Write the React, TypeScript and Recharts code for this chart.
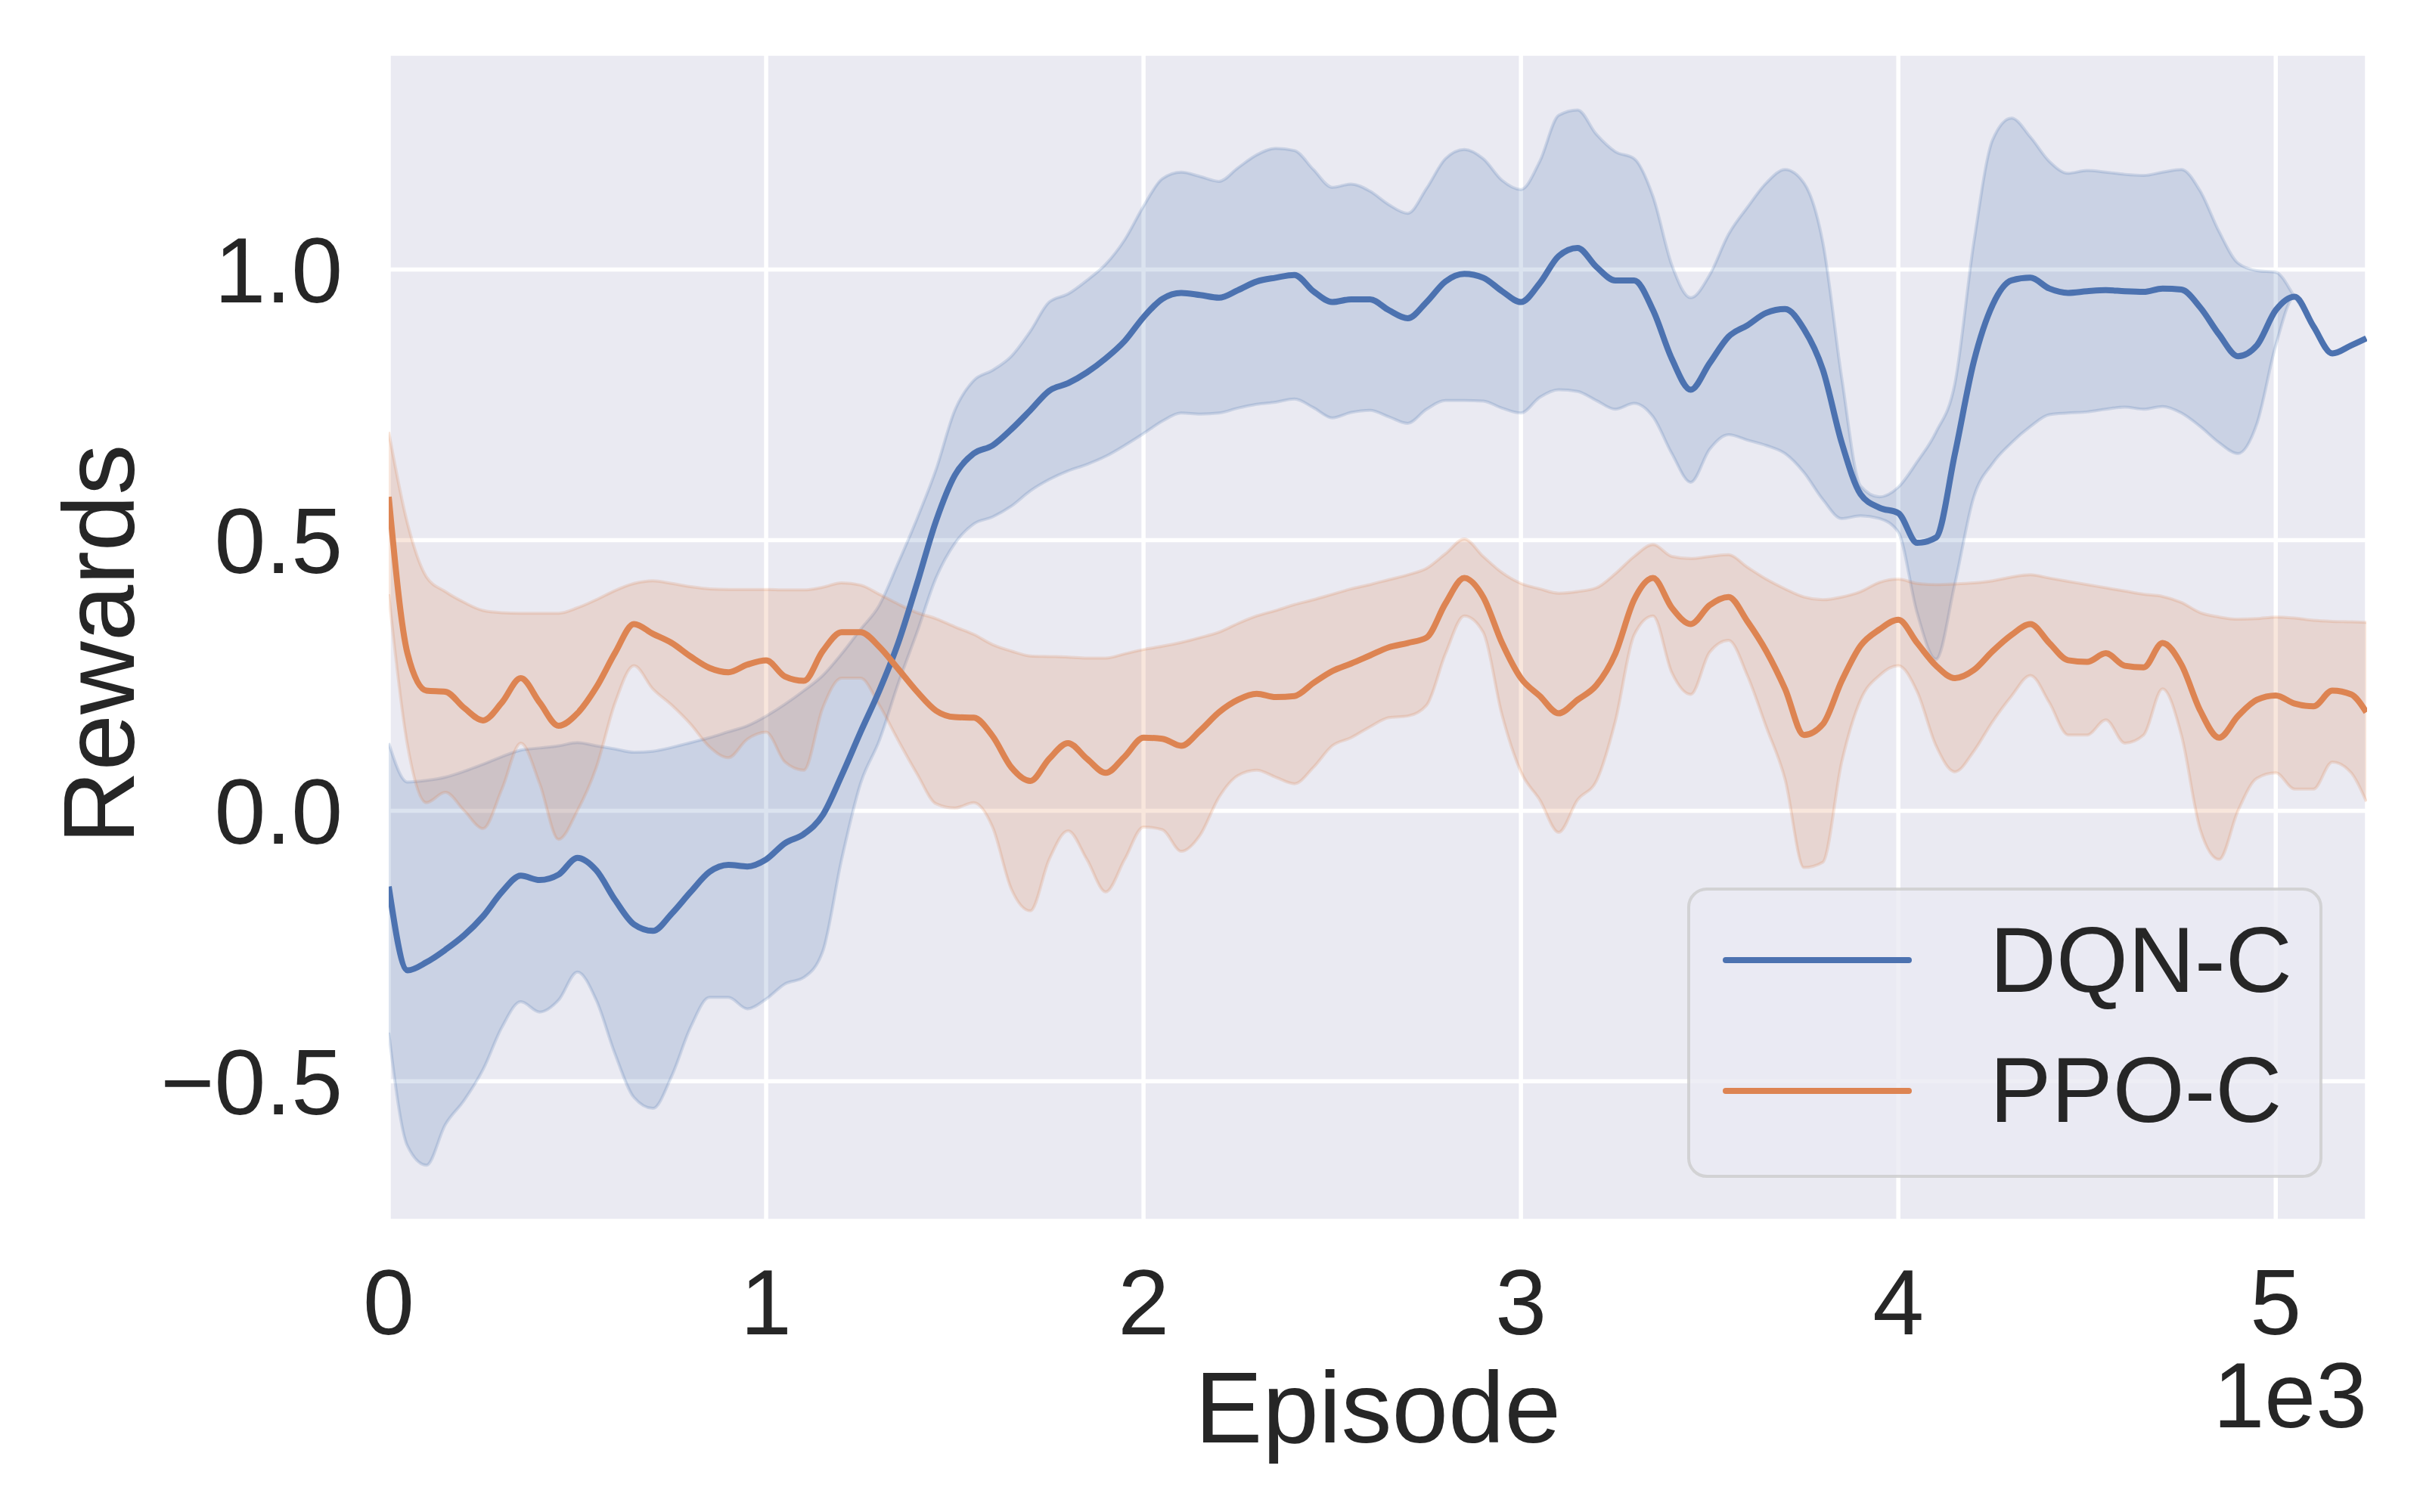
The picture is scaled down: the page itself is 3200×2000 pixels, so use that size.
import React from "react";
import {
  ComposedChart,
  Line,
  Area,
  XAxis,
  YAxis,
  CartesianGrid,
  Legend,
  Label,
} from "recharts";

// sampling grid (episodes)
const episodes = [
  0, 50, 100, 150, 200, 250, 300, 350, 400, 450,
  500, 550, 600, 650, 700, 750, 800, 850, 900, 950,
  1000, 1050, 1100, 1150, 1200, 1250, 1300, 1350, 1400, 1450,
  1500, 1550, 1600, 1650, 1700, 1750, 1800, 1850, 1900, 1950,
  2000, 2050, 2100, 2150, 2200, 2250, 2300, 2350, 2400, 2450,
  2500, 2550, 2600, 2650, 2700, 2750, 2800, 2850, 2900, 2950,
  3000, 3050, 3100, 3150, 3200, 3250, 3300, 3350, 3400, 3450,
  3500, 3550, 3600, 3650, 3700, 3750, 3800, 3850, 3900, 3950,
  4000, 4050, 4100, 4150, 4200, 4250, 4300, 4350, 4400, 4450,
  4500, 4550, 4600, 4650, 4700, 4750, 4800, 4850, 4900, 4950,
  5000, 5050, 5100, 5150, 5200, 5240,
];

const dqnMean = [
  -0.14, -0.295, -0.28, -0.257, -0.23, -0.195, -0.15, -0.12, -0.128, -0.118,
  -0.087, -0.11, -0.165, -0.21, -0.222, -0.19, -0.15, -0.113, -0.1, -0.103,
  -0.09, -0.06, -0.043, -0.008, 0.065, 0.145, 0.222, 0.31, 0.42, 0.535,
  0.62, 0.66, 0.675, 0.705, 0.74, 0.776, 0.79, 0.81, 0.836, 0.868,
  0.912, 0.946, 0.957, 0.953, 0.948, 0.962, 0.978, 0.985, 0.99, 0.96,
  0.94, 0.945, 0.945, 0.925, 0.91, 0.94, 0.978, 0.992, 0.985, 0.96,
  0.94, 0.975, 1.025, 1.04, 1.005, 0.98, 0.98, 0.925, 0.835, 0.778,
  0.827, 0.876, 0.897, 0.92, 0.927, 0.89, 0.815, 0.68, 0.585, 0.56,
  0.55, 0.495, 0.505, 0.66, 0.83, 0.935, 0.98, 0.985, 0.965, 0.957,
  0.96, 0.962, 0.96, 0.959, 0.965, 0.963, 0.93, 0.88, 0.84, 0.86,
  0.925, 0.95, 0.895, 0.845, 0.86, 0.873,
];

const dqnUpper = [
  0.125, 0.053, 0.056, 0.062, 0.073, 0.086, 0.1, 0.112, 0.116, 0.12,
  0.126, 0.12, 0.114, 0.108, 0.11, 0.117, 0.126, 0.135, 0.146, 0.157,
  0.175, 0.197, 0.222, 0.25, 0.29, 0.335, 0.38, 0.458, 0.54, 0.63,
  0.74, 0.795, 0.814, 0.84, 0.886, 0.94, 0.955, 0.98, 1.01, 1.055,
  1.117, 1.168, 1.18, 1.172, 1.163, 1.188, 1.212, 1.224, 1.22, 1.185,
  1.152, 1.158, 1.145, 1.12, 1.104, 1.15, 1.205, 1.222, 1.205, 1.165,
  1.148, 1.2, 1.285, 1.295, 1.25, 1.218, 1.205, 1.135, 1.008, 0.948,
  0.99, 1.065, 1.115, 1.16, 1.185, 1.16, 1.05, 0.8, 0.6, 0.58,
  0.598, 0.645, 0.7, 0.79, 1.05, 1.24, 1.28, 1.245, 1.2, 1.178,
  1.183, 1.18, 1.176, 1.174, 1.18, 1.185, 1.145, 1.07, 1.012, 0.998,
  0.995, 0.95, 0.895, 0.845, 0.86, 0.873,
];

const dqnLower = [
  -0.41, -0.62, -0.655, -0.58, -0.535, -0.478, -0.4, -0.353, -0.372, -0.35,
  -0.298, -0.35, -0.45, -0.53, -0.55, -0.49, -0.4, -0.345, -0.345, -0.366,
  -0.348, -0.32, -0.308, -0.26, -0.09, 0.05, 0.13, 0.235, 0.33, 0.43,
  0.494, 0.53, 0.543, 0.563, 0.591, 0.612, 0.628, 0.64, 0.655, 0.675,
  0.697, 0.72, 0.735, 0.733, 0.735, 0.744, 0.751, 0.755, 0.761, 0.745,
  0.726, 0.736, 0.74, 0.728, 0.716, 0.742, 0.758, 0.758, 0.757, 0.744,
  0.735, 0.764, 0.778, 0.775, 0.758, 0.742, 0.753, 0.728, 0.66, 0.607,
  0.668, 0.695, 0.685, 0.675, 0.66, 0.625, 0.575, 0.54, 0.545, 0.54,
  0.515, 0.365, 0.28, 0.42, 0.58, 0.642, 0.68, 0.71, 0.732, 0.735,
  0.737, 0.742, 0.746, 0.742, 0.747, 0.735, 0.71, 0.68, 0.66, 0.715,
  0.86, 0.95, 0.895, 0.845, 0.86, 0.873,
];

const ppoMean = [
  0.58, 0.29, 0.222, 0.22, 0.19, 0.167, 0.2, 0.245, 0.2, 0.157,
  0.18, 0.228, 0.292, 0.345, 0.327, 0.31, 0.285, 0.264, 0.256, 0.27,
  0.278, 0.248, 0.24, 0.295, 0.33, 0.33, 0.303, 0.262, 0.22, 0.185,
  0.173, 0.172, 0.138, 0.08, 0.055, 0.096, 0.125, 0.096, 0.07, 0.1,
  0.135, 0.133, 0.12, 0.148, 0.182, 0.205, 0.216, 0.21, 0.212, 0.236,
  0.258, 0.272, 0.287, 0.302, 0.31, 0.32, 0.383, 0.43, 0.395, 0.31,
  0.245, 0.212, 0.18, 0.205, 0.232, 0.29, 0.39, 0.43, 0.375, 0.345,
  0.38, 0.395, 0.35, 0.295, 0.225, 0.14, 0.16, 0.24, 0.305, 0.335,
  0.353, 0.31, 0.268, 0.245, 0.26, 0.295, 0.325, 0.345, 0.31, 0.278,
  0.275, 0.291, 0.268, 0.265, 0.31, 0.27, 0.185, 0.135, 0.175, 0.205,
  0.213, 0.198, 0.193, 0.222, 0.215, 0.182,
];

const ppoUpper = [
  0.7, 0.53, 0.432, 0.405, 0.385, 0.37, 0.366, 0.365, 0.365, 0.365,
  0.375, 0.39, 0.407, 0.42, 0.425, 0.42, 0.414, 0.41, 0.409, 0.409,
  0.409, 0.408, 0.408, 0.413, 0.421, 0.417, 0.4, 0.382, 0.366, 0.355,
  0.34, 0.326, 0.307, 0.295, 0.286, 0.285, 0.284, 0.282, 0.282, 0.29,
  0.298, 0.304, 0.311, 0.32, 0.33, 0.346, 0.36, 0.37, 0.381, 0.39,
  0.4, 0.41, 0.418, 0.427, 0.436, 0.448, 0.475, 0.502, 0.47, 0.44,
  0.42, 0.41, 0.402, 0.405, 0.412, 0.438, 0.47, 0.492, 0.47, 0.466,
  0.47, 0.473, 0.45, 0.428, 0.41, 0.395, 0.39, 0.395, 0.405, 0.422,
  0.428, 0.42, 0.418, 0.419, 0.421, 0.425, 0.432, 0.436, 0.43, 0.424,
  0.418, 0.412, 0.406, 0.4, 0.396, 0.385, 0.366, 0.358, 0.354, 0.355,
  0.358, 0.356, 0.352, 0.35, 0.349, 0.348,
];

const ppoLower = [
  0.4, 0.12, 0.015, 0.034, 0.0, -0.033, 0.04, 0.125, 0.05, -0.053,
  0.0, 0.08, 0.2, 0.268, 0.225, 0.195, 0.16, 0.118, 0.098, 0.132,
  0.145, 0.09, 0.075, 0.19, 0.245, 0.245, 0.195, 0.13, 0.068, 0.013,
  0.005, 0.015, -0.03, -0.145, -0.185, -0.09, -0.037, -0.09, -0.15, -0.09,
  -0.03, -0.035, -0.075, -0.045, 0.025, 0.065, 0.075, 0.062, 0.05, 0.08,
  0.12, 0.135, 0.155, 0.172, 0.175, 0.195, 0.29, 0.36, 0.33, 0.177,
  0.072, 0.02, -0.04, 0.02, 0.055, 0.165, 0.325, 0.36, 0.255, 0.215,
  0.293, 0.315, 0.25, 0.155, 0.058, -0.105, -0.095, 0.09, 0.205, 0.25,
  0.268, 0.22, 0.12, 0.072, 0.11, 0.165, 0.212, 0.25, 0.2, 0.14,
  0.14, 0.168, 0.125, 0.14, 0.225, 0.14, -0.035, -0.09, 0.0, 0.06,
  0.07, 0.04, 0.04, 0.09, 0.07, 0.017,
];

const xTicks = [0, 1000, 2000, 3000, 4000, 5000];
const yTicks = [-0.5, 0, 0.5, 1.0];

const BLUE = "#4C72B0";
const ORANGE = "#DD8452";
const INK = "#262626";
const FONT = "'Liberation Sans', Arial, Helvetica, sans-serif";

const data = episodes.map((episode, i) => ({
  episode,
  dqn: dqnMean[i],
  dqnBand: [dqnLower[i], dqnUpper[i]],
  ppo: ppoMean[i],
  ppoBand: [ppoLower[i], ppoUpper[i]],
}));

function formatReward(v: number) {
  return v < 0 ? `\u2212${Math.abs(v).toFixed(1)}` : v.toFixed(1);
}

function EpisodeLabel(props: any) {
  const vb = props.viewBox;
  if (!vb) return null;
  return (
    <g>
      <text
        x={vb.x + vb.width / 2}
        y={vb.y + 293}
        textAnchor="middle"
        fontSize={134}
        fill={INK}
        fontFamily={FONT}
      >
        Episode
      </text>
      <text
        x={vb.x + vb.width}
        y={vb.y + 273}
        textAnchor="end"
        fontSize={122}
        fill={INK}
        fontFamily={FONT}
      >
        1e3
      </text>
    </g>
  );
}

function RewardsLabel(props: any) {
  const vb = props.viewBox;
  if (!vb) return null;
  const x = 177;
  const y = vb.y + vb.height / 2 + 9;
  return (
    <text
      x={x}
      y={y}
      transform={`rotate(-90, ${x}, ${y})`}
      textAnchor="middle"
      fontSize={134}
      fill={INK}
      fontFamily={FONT}
    >
      Rewards
    </text>
  );
}

function LegendBox(props: any) {
  const items = (props.payload || []).filter((p: any) => p.type !== "none");
  return (
    <svg width={840} height={384} style={{ display: "block" }}>
      <rect
        x={2}
        y={2}
        width={836}
        height={380}
        rx={24}
        fill="rgba(234,234,242,0.8)"
        stroke="rgba(204,204,204,0.8)"
        strokeWidth={4}
      />
      {items.map((item: any, i: number) => (
        <g key={item.value}>
          <line
            x1={51}
            x2={293}
            y1={96 + i * 173}
            y2={96 + i * 173}
            stroke={item.color}
            strokeWidth={8}
            strokeLinecap="round"
          />
          <text x={400} y={138 + i * 172} fontSize={122} fill={INK} fontFamily={FONT}>
            {item.value}
          </text>
        </g>
      ))}
    </svg>
  );
}

export default function App() {
  return (
    <div style={{ position: "absolute", left: 0, top: 0, width: 3200, height: 2000, background: "#fff" }}>
      <ComposedChart
        width={3200}
        height={2000}
        data={data}
        margin={{ top: 71, right: 70, bottom: 0, left: 0 }}
      >
        <CartesianGrid fill="#EAEAF2" stroke="#FFFFFF" strokeWidth={5.5} />
        <XAxis
          type="number"
          dataKey="episode"
          domain={[0, 5242]}
          allowDataOverflow
          ticks={xTicks}
          interval={0}
          tickFormatter={(v) => String(v / 1000)}
          tickLine={false}
          axisLine={false}
          tickSize={0}
          tickMargin={63}
          height={385}
          tick={{ fontSize: 122, fill: INK, fontFamily: FONT }}
        >
          <Label content={EpisodeLabel} />
        </XAxis>
        <YAxis
          type="number"
          domain={[-0.758, 1.399]}
          allowDataOverflow
          ticks={yTicks}
          interval={0}
          tickFormatter={formatReward}
          tickLine={false}
          axisLine={false}
          tickSize={0}
          tickMargin={61}
          width={514}
          tick={{ fontSize: 122, fill: INK, fontFamily: FONT }}
        >
          <Label content={RewardsLabel} />
        </YAxis>
        <Area
          type="monotone"
          dataKey="dqnBand"
          fill={BLUE}
          fillOpacity={0.2}
          stroke={BLUE}
          strokeOpacity={0.2}
          strokeWidth={4}
          legendType="none"
          dot={false}
          activeDot={false}
          isAnimationActive={false}
        />
        <Area
          type="monotone"
          dataKey="ppoBand"
          fill={ORANGE}
          fillOpacity={0.2}
          stroke={ORANGE}
          strokeOpacity={0.2}
          strokeWidth={4}
          legendType="none"
          dot={false}
          activeDot={false}
          isAnimationActive={false}
        />
        <Line
          type="monotone"
          dataKey="dqn"
          name="DQN-C"
          stroke={BLUE}
          strokeWidth={8}
          dot={false}
          activeDot={false}
          isAnimationActive={false}
        />
        <Line
          type="monotone"
          dataKey="ppo"
          name="PPO-C"
          stroke={ORANGE}
          strokeWidth={8}
          dot={false}
          activeDot={false}
          isAnimationActive={false}
        />
        <Legend
          layout="vertical"
          align="center"
          verticalAlign="middle"
          content={LegendBox}
          wrapperStyle={{ left: 2231, top: 1174, width: 840, height: 384 }}
        />
      </ComposedChart>
    </div>
  );
}
